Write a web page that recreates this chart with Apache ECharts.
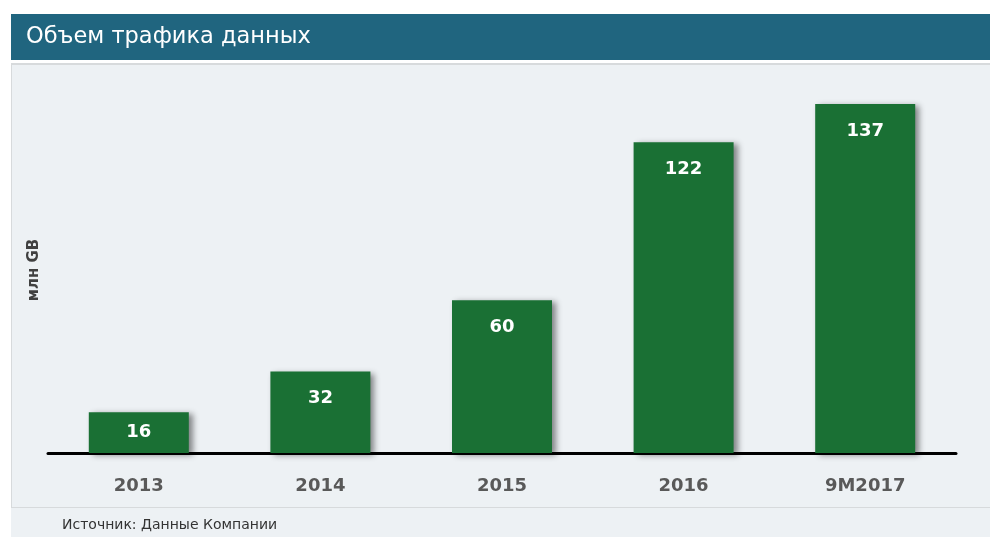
<!DOCTYPE html>
<html>
<head>
<meta charset="utf-8">
<script src="https://cdn.jsdelivr.net/npm/echarts@6/dist/echarts.min.js"></script>
<style>
  html, body { margin: 0; padding: 0; background: #ffffff; }
  #chart { width: 990px; height: 537px; }
</style>
</head>
<body>
<div id="chart"></div>
<script>
const categories = ['2013', '2014', '2015', '2016', '9M2017'];
const traffic = [16, 32, 60, 122, 137];

const chart = echarts.init(document.getElementById('chart'));

const getOptions = () => {
  return {
    animation: false,
    textStyle: { fontFamily: 'DejaVu Sans' },
    graphic: [
      // светлая подложка
      {
        type: 'rect', z: -10, silent: true,
        shape: { x: 11, y: 63, width: 979, height: 474 },
        style: { fill: '#edf1f4' }
      },
      {
        type: 'rect', z: -9, silent: true,
        shape: { x: 11, y: 63, width: 979, height: 2 },
        style: { fill: '#d7dadc' }
      },
      {
        type: 'rect', z: -9, silent: true,
        shape: { x: 11, y: 65, width: 1, height: 443 },
        style: { fill: '#d7dadc' }
      },
      {
        type: 'rect', z: -9, silent: true,
        shape: { x: 11, y: 507, width: 979, height: 1 },
        style: { fill: '#d7dadc' }
      },
      // шапка
      {
        type: 'rect', silent: true,
        shape: { x: 11, y: 14, width: 979, height: 46 },
        style: { fill: '#20657f' }
      },
      {
        type: 'text', silent: true,
        left: 26, top: 26,
        style: {
          text: 'Объем трафика данных',
          fill: '#ffffff',
          font: '22.5px "DejaVu Sans"'
        }
      },
      {
        type: 'text', silent: true,
        x: 34, y: 270, rotation: Math.PI / 2,
        style: {
          text: 'млн GB',
          fill: '#404040',
          font: 'bold 15px "DejaVu Sans"',
          align: 'center',
          verticalAlign: 'middle'
        }
      },
      {
        type: 'text', silent: true,
        left: 62, top: 518,
        style: {
          text: 'Источник: Данные Компании',
          fill: '#333333',
          font: '14px "DejaVu Sans"'
        }
      }
    ],
    grid: {
      left: 48,
      right: 34,
      top: 71,
      bottom: 84
    },
    xAxis: {
      type: 'category',
      data: categories,
      axisTick: { show: false },
      axisLine: { lineStyle: { color: '#000000', width: 3 } },
      axisLabel: {
        color: '#595959',
        fontSize: 18,
        fontWeight: 'bold',
        margin: 24
      }
    },
    yAxis: {
      type: 'value',
      min: 0,
      max: 150,
      show: false
    },
    series: [
      {
        name: 'Объем трафика',
        type: 'bar',
        barWidth: 100,
        // у низкого столбца подпись ближе к верху
        data: traffic.map((v, i) => i === 0 ? { value: v, label: { distance: 11 } } : v),
        itemStyle: {
          color: '#1a7034',
          shadowBlur: 6,
          shadowOffsetX: 4,
          shadowOffsetY: 2,
          shadowColor: 'rgba(0, 0, 0, 0.45)'
        },
        label: {
          show: true,
          position: 'insideTop',
          distance: 18,
          color: '#ffffff',
          fontSize: 18,
          fontWeight: 'bold'
        }
      }
    ]
  };
};

chart.setOption(getOptions());
</script>
</body>
</html>
